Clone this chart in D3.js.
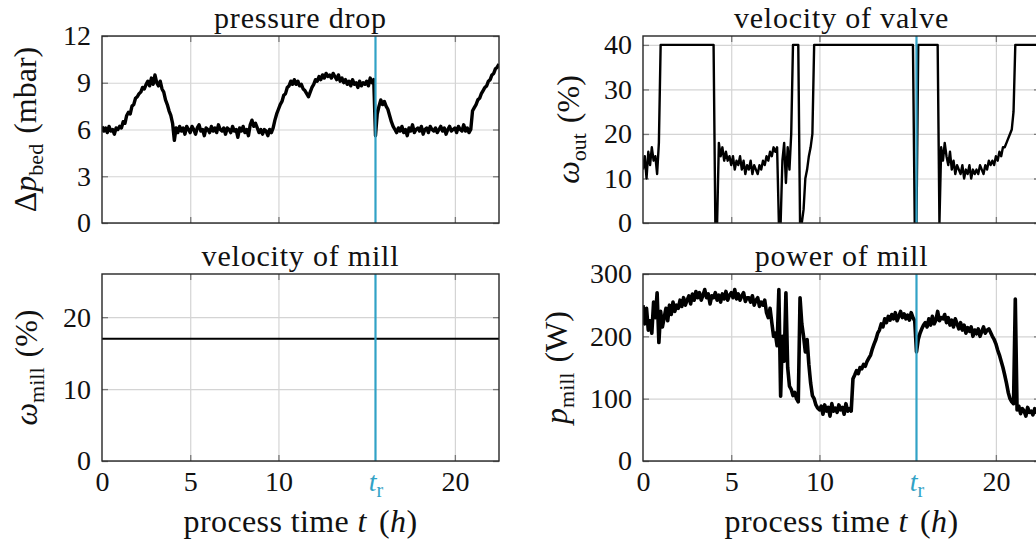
<!DOCTYPE html>
<html>
<head>
<meta charset="utf-8">
<script src="https://cdn.jsdelivr.net/npm/d3@7/dist/d3.min.js"></script>
<style>
  body { margin: 0; background: #fff; }
  svg, svg text { font-family: "Liberation Serif", "Times New Roman", serif; }
</style>
</head>
<body>
<svg id="chart" width="1036" height="550"></svg>
<script>
// sampling of the measured series (hours)
const timeStep = 0.1

// pressure drop over the bed (mbar), one row per hour
const pressureDrop = [
  6.2, 5.9, 6.1, 5.8, 6.2, 5.9, 6.0, 5.7, 6.1, 6.0,
  6.2, 6.1, 6.5, 6.4, 6.9, 7.1, 7.0, 7.5, 7.6, 8.0,
  8.1, 8.3, 8.4, 8.7, 8.6, 8.9, 9.1, 8.8, 9.3, 8.9,
  9.5, 9.0, 8.8, 9.1, 8.6, 8.4, 7.9, 7.6, 7.2, 6.9,
  6.4, 5.3, 6.1, 5.8, 6.2, 5.9, 6.1, 5.7, 6.2, 6.0,
  5.8, 6.2, 6.0, 5.7, 6.1, 6.3, 5.9, 6.0, 5.6, 6.1,
  6.0, 5.8, 6.2, 5.9, 6.1, 5.8, 6.3, 6.0, 5.9, 6.1,
  5.7, 6.1, 6.0, 5.8, 6.2, 5.9, 6.0, 5.5, 6.1, 5.9,
  6.2, 5.8, 6.0, 5.6, 6.3, 6.6, 6.2, 6.4, 6.1, 5.8,
  6.0, 5.7, 6.0, 5.9, 5.6, 6.0, 5.8, 6.1, 6.6, 7.0,
  7.3, 7.6, 7.8, 8.2, 8.3, 8.7, 8.8, 9.1, 8.9, 9.2,
  8.9, 9.1, 8.8, 8.9, 8.6, 8.5, 8.3, 8.1, 8.4, 8.7,
  8.9, 9.2, 9.1, 9.4, 9.2, 9.5, 9.3, 9.6, 9.4, 9.5,
  9.3, 9.6, 9.4, 9.2, 9.5, 9.1, 9.3, 9.0, 9.2, 8.9,
  9.1, 8.8, 9.2, 8.9, 9.0, 8.7, 9.1, 8.8, 9.0, 8.9,
  9.1, 8.8, 9.3, 9.0, 9.2, 5.6, 7.0, 7.5, 7.9, 7.6,
  7.8, 7.5, 7.3, 6.9, 6.5, 6.2, 6.0, 5.8, 6.1, 5.9,
  6.2, 5.8, 6.0, 5.6, 6.1, 5.9, 6.3, 5.8, 6.0, 6.1,
  5.9, 6.2, 5.7, 6.0, 6.1, 5.8, 6.2, 6.0, 5.9, 6.1,
  5.8, 6.0, 6.2, 5.9, 6.1, 5.7, 6.0, 6.2, 5.9, 6.0,
  6.1, 5.8, 6.2, 6.0, 5.9, 6.3, 5.9, 6.1, 5.8, 6.0,
  7.2, 7.4, 7.6, 7.9, 8.0, 8.3, 8.5, 8.7, 8.8, 9.1,
  9.2, 9.5, 9.6, 9.9, 10.0, 10.2
]

// velocity of the outlet valve (%)
const valveVelocity = [
  12, 15, 10, 16, 13, 17, 14, 15, 11, 18,
  40, 40, 40, 40, 40, 40, 40, 40, 40, 40,
  40, 40, 40, 40, 40, 40, 40, 40, 40, 40,
  40, 40, 40, 40, 40, 40, 40, 40, 40, 40,
  40, 0, 0, 18, 15, 17, 14, 16, 14, 15,
  13, 15, 12, 14, 13, 15, 12, 14, 11, 13,
  12, 14, 11, 13, 12, 11, 13, 12, 14, 13,
  15, 14, 16, 15, 17, 16, 17, 0, 0, 14,
  18, 9, 17, 12, 20, 40, 40, 40, 40, 0,
  0, 3, 10, 12, 15, 17, 20, 40, 40, 40,
  40, 40, 40, 40, 40, 40, 40, 40, 40, 40,
  40, 40, 40, 40, 40, 40, 40, 40, 40, 40,
  40, 40, 40, 40, 40, 40, 40, 40, 40, 40,
  40, 40, 40, 40, 40, 40, 40, 40, 40, 40,
  40, 40, 40, 40, 40, 40, 40, 40, 40, 40,
  40, 40, 40, 40, 0, 0, 40, 40, 40, 40,
  40, 40, 40, 40, 40, 40, 40, 40, 0, 17,
  14, 18, 15, 13, 16, 12, 14, 11, 13, 12,
  11, 13, 10, 12, 11, 13, 10, 12, 11, 12,
  11, 13, 12, 11, 13, 12, 14, 13, 14, 13,
  15, 14, 16, 15, 17, 17, 18, 19, 20, 21,
  25, 40, 40, 40, 40, 40, 40, 40, 40, 40,
  40, 40, 40, 40, 40, 40
]

// power of the mill (W)
const millPower = [
  250, 220, 245, 210, 225, 205, 255, 230, 270, 190,
  240, 215, 230, 245, 225, 250, 235, 255, 240, 250,
  245, 258, 248, 262, 250, 258, 265, 252, 268, 258,
  272, 262, 270, 258, 266, 275, 262, 268, 252, 265,
  262, 270, 258, 266, 255, 268, 260, 272, 258, 266,
  270, 262, 275, 260, 268, 258, 265, 270, 256, 262,
  262, 255, 265, 250, 258, 262, 248, 255, 250, 258,
  238, 230, 245, 222, 200, 205, 185, 275, 104, 200,
  160, 270, 150, 120, 115, 105, 110, 100, 95, 262,
  220, 200, 175, 195, 155, 125, 105, 100, 90, 85,
  82, 88, 75, 90, 80, 86, 72, 92, 80, 85,
  78, 90, 82, 86, 75, 92, 80, 84, 80, 132,
  138, 145, 140, 150, 148, 155, 152, 160, 165, 170,
  180, 188, 195, 205, 210, 220, 215, 228, 222, 232,
  226, 235, 228, 238, 225, 232, 240, 230, 236, 228,
  234, 226, 238, 230, 225, 175, 195, 205, 212, 218,
  222, 215, 228, 218, 232, 220, 226, 240, 225, 230,
  228, 235, 222, 230, 218, 226, 215, 228, 220, 212,
  222, 210, 218, 205, 214, 208, 215, 200, 210, 204,
  212, 200, 208, 215, 205, 210, 212, 206, 200, 195,
  188, 178, 170, 160, 150, 138, 125, 110, 100, 95,
  92, 260, 82, 88, 76, 84, 80, 72, 86, 78,
  80, 74, 84, 78, 82, 76
]

// velocity of the mill (%), constant
const millVelocityTime = [0, 22.5]
const millVelocity = [17, 17]

const releaseTime = 15.5
const xTicks = [0, 5, 10, releaseTime, 20]
const xGrid = [5, 10, 20]
const pressureTicks = [0, 3, 6, 9, 12]
const valveTicks = [0, 10, 20, 30, 40]
const millVelTicks = [0, 10, 20]
const powerTicks = [0, 100, 200, 300]

const timeH = pressureDrop.map((d, i) => i * timeStep)

const serif = '"Liberation Serif", "Times New Roman", serif'
const cyan = '#31a2c6'
const plotW = 397
const plotH = 187
const svg = d3.select('#chart')

const panels = [
  { left: 102, top: 36, domain: [0, 12], ticks: pressureTicks, t: timeH, v: pressureDrop,
    title: 'pressure drop', sym: 'Δ', symI: 'p', sub: 'bed', unit: '(mbar)', labelX: 36, xLabels: false, width: 3.4 },
  { left: 643, top: 36, domain: [0, 42], ticks: valveTicks, t: timeH, v: valveVelocity,
    title: 'velocity of valve', sym: '', symI: 'ω', sub: 'out', unit: '(%)', labelX: 579, xLabels: false, width: 2.4 },
  { left: 102, top: 274, domain: [0, 26], ticks: millVelTicks, t: millVelocityTime, v: millVelocity,
    title: 'velocity of mill', sym: '', symI: 'ω', sub: 'mill', unit: '(%)', labelX: 37, xLabels: true, width: 2.2 },
  { left: 643, top: 274, domain: [0, 300], ticks: powerTicks, t: timeH, v: millPower,
    title: 'power of mill', sym: '', symI: 'p', sub: 'mill', unit: '(W)', labelX: 567, xLabels: true, width: 3.6 }
]

panels.forEach((p, k) => {
  const g = svg.append('g')
  const bottom = p.top + plotH
  const x = d3.scaleLinear().domain([0, 22.5]).range([p.left, p.left + plotW])
  const y = d3.scaleLinear().domain(p.domain).range([bottom, p.top])

  // grid
  g.append('g')
    .attr('transform', `translate(0,${bottom})`)
    .call(d3.axisBottom(x).tickValues(xGrid).tickSize(-plotH).tickFormat(''))
    .call(a => a.select('.domain').remove())
    .selectAll('line').attr('stroke', '#d4d4d4').attr('stroke-width', 1.2)
  g.append('g')
    .attr('transform', `translate(${p.left},0)`)
    .call(d3.axisLeft(y).tickValues(p.ticks).tickSize(-plotW).tickFormat(''))
    .call(a => a.select('.domain').remove())
    .selectAll('line').attr('stroke', '#d4d4d4').attr('stroke-width', 1.2)

  // inner tick marks on all four sides
  const marks = [
    [d3.axisLeft(y).tickValues(p.ticks), `translate(${p.left},0)`],
    [d3.axisRight(y).tickValues(p.ticks), `translate(${p.left + plotW},0)`],
    [d3.axisBottom(x).tickValues(xGrid), `translate(0,${bottom})`],
    [d3.axisTop(x).tickValues(xGrid), `translate(0,${p.top})`]
  ]
  marks.forEach(([ax, tr]) => {
    g.append('g').attr('transform', tr)
      .call(ax.tickSize(-6).tickFormat(''))
      .call(a => a.select('.domain').remove())
      .selectAll('line').attr('stroke', '#7a7a7a').attr('stroke-width', 1.3)
  })

  // data
  const clipId = 'clip' + k
  g.append('clipPath').attr('id', clipId)
    .append('rect').attr('x', p.left).attr('y', p.top).attr('width', plotW).attr('height', plotH)
  const line = d3.line().x((d, i) => x(p.t[i])).y(d => y(d))
  g.append('path')
    .datum(p.v)
    .attr('clip-path', `url(#${clipId})`)
    .attr('fill', 'none')
    .attr('stroke', '#000')
    .attr('stroke-width', p.width)
    .attr('stroke-linejoin', 'round')
    .attr('d', line)

  // release time marker
  g.append('line')
    .attr('x1', x(releaseTime)).attr('x2', x(releaseTime))
    .attr('y1', p.top).attr('y2', bottom)
    .attr('stroke', cyan).attr('stroke-width', 2.2)

  // frame
  g.append('rect')
    .attr('x', p.left).attr('y', p.top).attr('width', plotW).attr('height', plotH)
    .attr('fill', 'none').attr('stroke', '#262626').attr('stroke-width', 1.4)

  // y tick labels
  g.append('g')
    .attr('transform', `translate(${p.left},0)`)
    .call(d3.axisLeft(y).tickValues(p.ticks).tickSize(0).tickPadding(11))
    .call(a => a.select('.domain').remove())
    .selectAll('text')
    .style('font-family', serif).style('font-size', '28px').attr('fill', '#111')

  // x tick labels
  if (p.xLabels) {
    const xa = g.append('g')
      .attr('transform', `translate(0,${bottom})`)
      .call(d3.axisBottom(x).tickValues(xTicks).tickSize(0).tickPadding(10)
        .tickFormat(d => d === releaseTime ? '' : d))
      .call(a => a.select('.domain').remove())
    xa.selectAll('text')
      .style('font-family', serif).style('font-size', '28px').attr('fill', '#111')
    const trText = xa.selectAll('.tick').filter(d => d === releaseTime).select('text')
      .attr('fill', cyan)
    trText.append('tspan').attr('font-style', 'italic').text('t')
    trText.append('tspan').style('font-size', '20px').attr('dy', 6).text('r')

    const xl = g.append('text')
      .attr('x', p.left + plotW / 2).attr('y', 532)
      .attr('text-anchor', 'middle').attr('font-size', 32).attr('fill', '#111')
      .attr('letter-spacing', 0.4)
    xl.append('tspan').text('process time ')
    xl.append('tspan').attr('font-style', 'italic').text('t')
    xl.append('tspan').attr('dx', 12).text('(')
    xl.append('tspan').attr('font-style', 'italic').text('h')
    xl.append('tspan').text(')')
  }

  // title
  g.append('text')
    .attr('x', p.left + plotW / 2).attr('y', p.top - 8)
    .attr('text-anchor', 'middle').attr('font-size', 30).attr('fill', '#111')
    .attr('letter-spacing', 0.8)
    .text(p.title)

  // y label
  const yl = g.append('text')
    .attr('transform', `translate(${p.labelX},${p.top + plotH / 2}) rotate(-90)`)
    .attr('text-anchor', 'middle').attr('font-size', 32).attr('fill', '#111')
  if (p.sym) yl.append('tspan').text(p.sym)
  yl.append('tspan').attr('font-style', 'italic').text(p.symI)
  yl.append('tspan').attr('font-size', 22).attr('dy', 7).text(p.sub)
  yl.append('tspan').attr('dy', -7).attr('dx', 10).text(p.unit)
})
</script>
</body>
</html>
